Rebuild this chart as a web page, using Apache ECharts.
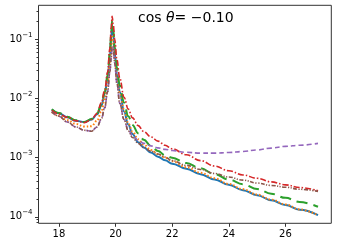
<!DOCTYPE html>
<html>
<head>
<meta charset="utf-8">
<script src="https://cdn.jsdelivr.net/npm/echarts@6/dist/echarts.min.js"></script>
<style>
html,body{margin:0;padding:0;background:#fff;}
#chart{width:337px;height:247px;}
</style>
</head>
<body>
<div id="chart"></div>
<script>
// shared x grid
const xValues = [17.75, 18.0, 18.3, 18.6, 18.9, 19.15, 19.35, 19.5, 19.62, 19.72, 19.8, 19.85, 19.88, 19.92, 19.97, 20.05, 20.15, 20.3, 20.45, 20.6, 20.8, 21.0, 21.25, 21.5, 21.75, 22.0, 22.5, 23.0, 23.5, 24.0, 24.5, 25.0, 25.5, 26.0, 26.5, 27.15];

const blueSolid = [6.5e-3, 5.6e-3, 4.8e-3, 4.2e-3, 4.0e-3, 4.4e-3, 5.4e-3, 7.5e-3, 1.2e-2, 2.2e-2, 5.0e-2, 1.1e-1, 1.7e-1, 1.2e-1, 6.0e-2, 2.6e-2, 1.3e-2, 6.0e-3, 3.63e-3, 2.51e-3, 1.82e-3, 1.48e-3, 1.22e-3, 1.035e-3, 9.0e-4, 7.9e-4, 6.5e-4, 5.25e-4, 4.27e-4, 3.47e-4, 2.82e-4, 2.32e-4, 1.9e-4, 1.58e-4, 1.32e-4, 1.07e-4];

const orangeDotted = [5.9e-3, 5.1e-3, 4.3e-3, 3.7e-3, 3.35e-3, 3.4e-3, 4.2e-3, 6.0e-3, 1.0e-2, 1.9e-2, 4.0e-2, 8.0e-2, 1.1e-1, 9.0e-2, 5.0e-2, 2.4e-2, 1.25e-2, 6.5e-3, 3.8e-3, 2.75e-3, 2.04e-3, 1.66e-3, 1.35e-3, 1.15e-3, 1.0e-3, 8.7e-4, 6.9e-4, 5.56e-4, 4.47e-4, 3.59e-4, 2.92e-4, 2.37e-4, 1.95e-4, 1.62e-4, 1.33e-4, 1.06e-4];

const greenDashed = [6.6e-3, 5.7e-3, 4.9e-3, 4.3e-3, 4.0e-3, 4.5e-3, 5.6e-3, 8.0e-3, 1.3e-2, 2.5e-2, 6.0e-2, 1.3e-1, 2.1e-1, 1.5e-1, 7.5e-2, 3.3e-2, 1.65e-2, 8.5e-3, 5.0e-3, 3.55e-3, 2.57e-3, 2.0e-3, 1.58e-3, 1.29e-3, 1.1e-3, 1.0e-3, 8.1e-4, 6.6e-4, 5.25e-4, 4.27e-4, 3.55e-4, 2.95e-4, 2.45e-4, 2.09e-4, 1.78e-4, 1.48e-4];

const redDashDot = [6.3e-3, 5.5e-3, 4.8e-3, 4.2e-3, 3.9e-3, 4.4e-3, 5.6e-3, 8.5e-3, 1.4e-2, 2.8e-2, 7.0e-2, 1.6e-1, 2.45e-1, 1.8e-1, 1.0e-1, 4.5e-2, 2.2e-2, 1.05e-2, 6.6e-3, 4.7e-3, 3.47e-3, 2.75e-3, 2.24e-3, 1.9e-3, 1.62e-3, 1.41e-3, 1.12e-3, 8.9e-4, 7.2e-4, 6.0e-4, 5.1e-4, 4.47e-4, 3.9e-4, 3.47e-4, 3.13e-4, 2.75e-4];

const purpleDashed = [6.0e-3, 5.0e-3, 4.0e-3, 3.3e-3, 2.9e-3, 2.8e-3, 3.3e-3, 4.5e-3, 7.0e-3, 1.3e-2, 2.8e-2, 5.0e-2, 7.5e-2, 7.5e-2, 4.0e-2, 1.8e-2, 8.3e-3, 4.4e-3, 2.95e-3, 2.34e-3, 1.95e-3, 1.74e-3, 1.58e-3, 1.46e-3, 1.38e-3, 1.32e-3, 1.23e-3, 1.19e-3, 1.19e-3, 1.22e-3, 1.27e-3, 1.35e-3, 1.45e-3, 1.55e-3, 1.62e-3, 1.74e-3];

const brownDashDotDot = [6.0e-3, 5.0e-3, 4.0e-3, 3.3e-3, 2.9e-3, 2.8e-3, 3.3e-3, 4.5e-3, 7.0e-3, 1.3e-2, 2.8e-2, 5.0e-2, 7.5e-2, 7.5e-2, 4.0e-2, 1.8e-2, 8.3e-3, 4.4e-3, 2.82e-3, 2.19e-3, 1.74e-3, 1.48e-3, 1.29e-3, 1.15e-3, 1.02e-3, 8.9e-4, 7.4e-4, 6.3e-4, 5.4e-4, 4.7e-4, 4.17e-4, 3.72e-4, 3.39e-4, 3.16e-4, 2.92e-4, 2.69e-4];

const xTicks = [18, 20, 22, 24, 26];
const yTicks = [1e-4, 1e-3, 1e-2, 1e-1];
const yMinorTicks = [];
[-5, -4, -3, -2, -1].forEach(function (e) {
  for (let m = 2; m <= 9; m++) yMinorTicks.push(m * Math.pow(10, e));
});

const titleText = 'cos {i|θ}= −0.10';

const xMin = 17.28, xMax = 27.62;
const yMin = Math.pow(10, -4.11), yMax = Math.pow(10, -0.425);

function pairs(ys) { return xValues.map(function (x, i) { return [x, ys[i]]; }); }

const chart = echarts.init(document.getElementById('chart'), null, {renderer: 'canvas'});
const font = 'DejaVu Sans';
function mkSeries(name, data, color, type, width) {
  return {
    name: name, type: 'line', data: pairs(data), showSymbol: false,
    smooth: 0.4, smoothMonotone: 'x',
    lineStyle: {color: color, width: width, type: type, cap: 'butt'},
    xAxisIndex: 0, yAxisIndex: 0
  };
}
const option = {
  animation: false,
  title: {
    text: titleText, left: 133, top: 6,
    textStyle: {fontSize: 14, fontWeight: 'normal', color: '#000', fontFamily: font,
      rich: {i: {fontStyle: 'italic', fontSize: 14, fontFamily: font, color: '#000'}}}
  },
  grid: {left: 38.5, right: 5.7, top: 5.3, bottom: 23.7, show: true, borderColor: '#333', borderWidth: 1, backgroundColor: 'transparent'},
  xAxis: [{
    type: 'value', min: xMin, max: xMax,
    axisLine: {show: false},
    splitLine: {show: false},
    axisTick: {show: true, length: 3.5, lineStyle: {color: '#333'}, customValues: xTicks},
    axisLabel: {customValues: xTicks, fontSize: 10, color: '#000', fontFamily: font, margin: 6}
  }],
  yAxis: [{
    type: 'log', logBase: 10, min: yMin, max: yMax,
    axisLine: {show: false},
    splitLine: {show: false},
    axisTick: {show: true, length: 3.5, lineStyle: {color: '#333'}, customValues: yTicks},
    axisLabel: {
      customValues: yTicks, fontSize: 10, color: '#000', fontFamily: font, margin: 6,
      formatter: function (v) {
        const e = Math.round(Math.log10(v));
        return '10{s|−' + Math.abs(e) + '}';
      },
      lineHeight: 16,
      rich: {s: {fontSize: 7, fontFamily: font, color: '#000', verticalAlign: 'top', lineHeight: 16}}
    }
  }, {
    type: 'log', logBase: 10, min: yMin, max: yMax, position: 'left',
    axisLine: {show: false}, splitLine: {show: false},
    axisTick: {show: true, length: 2, lineStyle: {color: '#333'}, customValues: yMinorTicks.filter(function (v) { return v > yMin && v < yMax; })},
    axisLabel: {show: false}
  }],
  series: [
    mkSeries('blue', blueSolid, '#1f77b4', 'solid', 2),
    mkSeries('orange', orangeDotted, '#ff7f0e', [1.5, 2], 2),
    mkSeries('green', greenDashed, '#2ca02c', [11, 6], 2),
    mkSeries('red', redDashDot, '#d62728', [6, 2, 1.5, 2], 1.6),
    mkSeries('purple', purpleDashed, '#9467bd', [5, 3], 1.6),
    mkSeries('brown', brownDashDotDot, '#8c564b', [4, 1.5, 1.2, 1.5, 1.2, 1.5], 1.6)
  ]
};
chart.setOption(option);
</script>
</body>
</html>
